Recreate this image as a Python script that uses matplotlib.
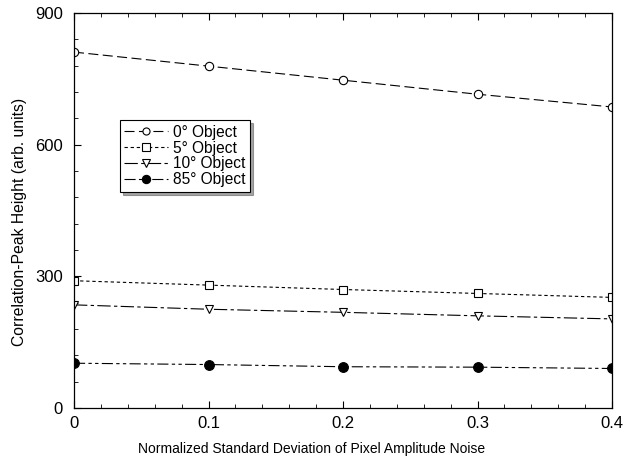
import matplotlib
matplotlib.use("Agg")
import matplotlib.pyplot as plt
from matplotlib.ticker import MultipleLocator

plt.rcParams['font.family'] = ['Liberation Sans', 'DejaVu Sans']

noise = [0.0, 0.1, 0.2, 0.3, 0.4]
obj0 = [811, 779, 747, 715, 686]
obj5 = [290, 280, 270, 261, 252]
obj10 = [235, 225, 218, 210, 203]
obj85 = [102, 99, 94, 93, 90]
labels = ['0° Object', '5° Object', '10° Object', '85° Object']
xticks = [0, 0.1, 0.2, 0.3, 0.4]
xticklabels = ['0', '0.1', '0.2', '0.3', '0.4']
yticks = [0, 300, 600, 900]

fig = plt.figure(figsize=(6.24, 4.66), dpi=100)
ax = fig.add_axes([0.1186, 0.1245, 0.8622, 0.8475])

lw = 0.8
ax.plot(noise, obj0, color='black', lw=lw, dashes=(9, 4), marker='o', ms=6,
        mfc='white', mec='black', mew=0.8, label=labels[0])
ax.plot(noise, obj5, color='black', lw=lw, dashes=(3, 2.5), marker='s', ms=6,
        mfc='white', mec='black', mew=0.8, label=labels[1])
ax.plot(noise, obj10, color='black', lw=lw, dashes=(12, 3, 3, 3), marker='v', ms=6,
        mfc='white', mec='black', mew=0.8, label=labels[2])
ax.plot(noise, obj85, color='black', lw=lw, dashes=(10, 3, 3, 3, 3, 3), marker='o', ms=7,
        mfc='black', mec='black', mew=0.8, label=labels[3])

ax.set_xlim(0, 0.4)
ax.set_ylim(0, 900)
ax.set_xticks(xticks)
ax.set_xticklabels(xticklabels)
ax.set_yticks(yticks)
ax.xaxis.set_minor_locator(MultipleLocator(0.02))
ax.yaxis.set_minor_locator(MultipleLocator(60))
ax.tick_params(which='both', direction='in', top=True, right=False, labelsize=12)
ax.tick_params(axis='x', pad=6)
ax.tick_params(axis='y', pad=8)
ax.tick_params(which='major', length=5, width=0.8)
ax.tick_params(which='minor', length=3, width=0.6)
for s in ax.spines.values():
    s.set_linewidth(0.9)

ax.set_xlabel('Normalized Standard Deviation of Pixel Amplitude Noise', fontsize=10, labelpad=8)
ax.xaxis.label.set_x(0.442)
ax.set_ylabel('Correlation-Peak Height (arb. units)', fontsize=11.3, labelpad=6)
ax.yaxis.label.set_y(0.47)

leg = ax.legend(loc='upper left', bbox_to_anchor=(0.085, 0.729), fontsize=11.2,
                handlelength=2.8, handletextpad=0.3, labelspacing=0.05,
                borderpad=0.3, frameon=True, fancybox=False, shadow=True,
                edgecolor='black', borderaxespad=0, markerscale=0.85)
leg.get_frame().set_linewidth(0.8)

fig.savefig('out.png', dpi=100)
